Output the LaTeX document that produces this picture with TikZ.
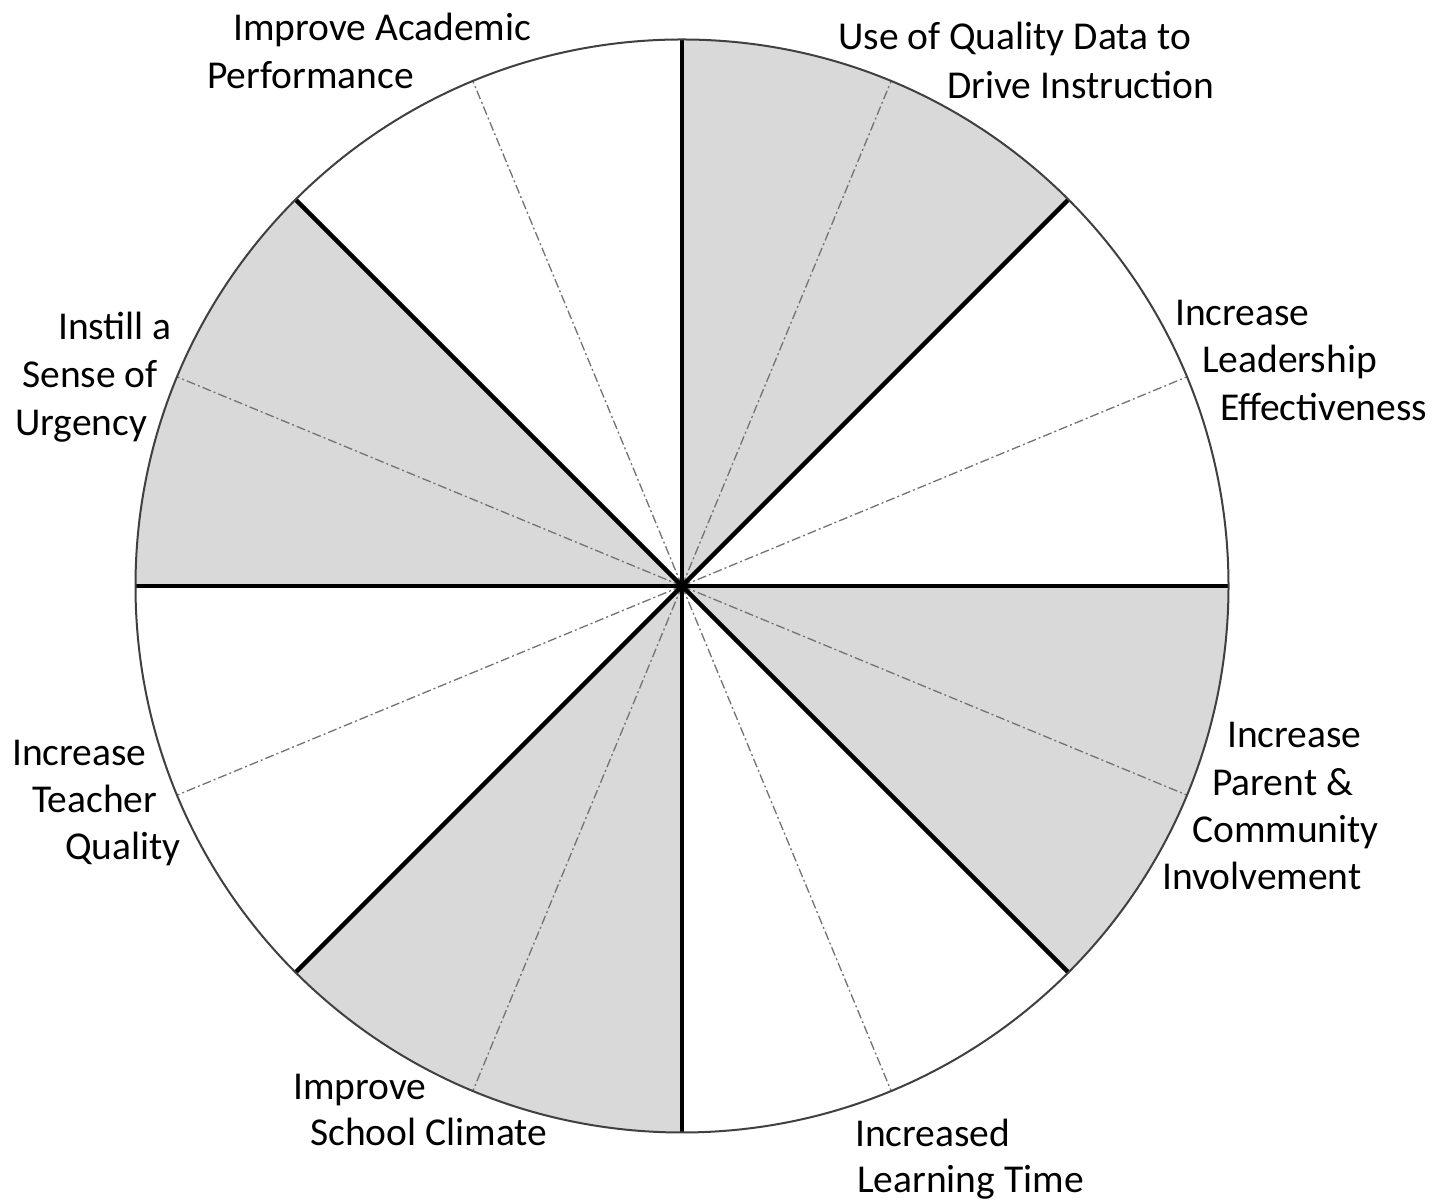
\documentclass[tikz,border=0pt]{standalone}
\usepackage{fontspec}
\setmainfont{Carlito}
\begin{document}
\begin{tikzpicture}[x=1pt,y=1pt,
  lbl/.style={anchor=base west, inner sep=0pt, font=\fontsize{39.5}{48}\selectfont},
  spoke/.style={line width=4.3pt, black},
  midline/.style={line width=1.3pt, black!55, dash pattern=on 9pt off 3pt on 2pt off 3pt},
  sector/.style={fill=black!15},
  rim/.style={line width=2pt, black!75}]
\useasboundingbox (0,0) rectangle (1449,1201);
\fill[white] (0,0) rectangle (1449,1201);
\coordinate (O) at (682,615);
\def\R{546.5}
\foreach \a in {45,135,225,315}
  \fill[sector] (O) -- ++(\a:\R) arc[start angle=\a, end angle=\a+45, radius=\R] -- cycle;
\foreach \a in {22.5,67.5,...,337.5}
  \draw[midline] (O) -- ++(\a:\R);
\foreach \a in {0,45,...,315}
  \draw[spoke] (O) -- ++(\a:\R);
\draw[rim] (O) circle[radius=\R];
% labels
\node[lbl] (ia1) at (233,1160) {Improve Academic};
\node[lbl] (ia2) at (207,1112) {Performance};
\node[lbl] (qd1) at (838,1151) {Use of Quality Data to};
\node[lbl] (qd2) at (947,1102) {Drive Instruction};
\node[lbl] (le1) at (1175,875) {Increase};
\node[lbl] (le2) at (1202,828) {Leadership};
\node[lbl] (le3) at (1220,780) {Effectiveness};
\node[lbl] (su1) at (58,861) {Instill a};
\node[lbl] (su2) at (22,813) {Sense of};
\node[lbl] (su3) at (15,765) {Urgency};
\node[lbl] (tq1) at (12,435) {Increase};
\node[lbl] (tq2) at (32,388) {Teacher};
\node[lbl] (tq3) at (65,341) {Quality};
\node[lbl] (pc1) at (1227,453) {Increase};
\node[lbl] (pc2) at (1212,405) {Parent \&};
\node[lbl] (pc3) at (1192,358) {Community};
\node[lbl] (pc4) at (1162,311) {Involvement};
\node[lbl] (sc1) at (293,101) {Improve};
\node[lbl] (sc2) at (310,55) {School Climate};
\node[lbl] (lt1) at (855,54) {Increased};
\node[lbl] (lt2) at (857,8) {Learning Time};
\end{tikzpicture}
\end{document}
